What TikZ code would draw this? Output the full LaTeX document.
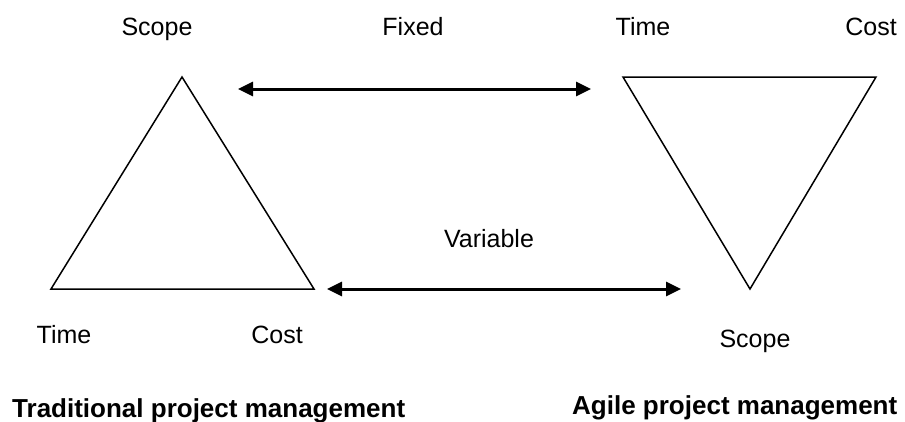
\documentclass[tikz,border=0pt]{standalone}
\usepackage{fontspec}
\setmainfont{Liberation Sans}
\usetikzlibrary{arrows.meta}
\begin{document}
\begin{tikzpicture}[x=1pt,y=-1pt,
  lbl/.style={inner sep=0pt,anchor=base,font=\fontsize{25}{30}\selectfont},
  ttl/.style={inner sep=0pt,anchor=base west,font=\fontsize{26}{31}\selectfont\bfseries},
  tri/.style={draw=black,line width=1.5pt,line join=miter},
  dbl/.style={draw=black,line width=3pt,{Triangle[length=15pt,width=14pt]}-{Triangle[length=15pt,width=14pt]}}]
\useasboundingbox (0,0) rectangle (905,421);
% left triangle
\coordinate (LA) at (182,77);
\coordinate (LB) at (51,289);
\coordinate (LC) at (314,289);
\draw[tri] (LA) -- (LB) -- (LC) -- cycle;
% right triangle
\coordinate (RA) at (623,77);
\coordinate (RB) at (876,77);
\coordinate (RC) at (750,289);
\draw[tri] (RA) -- (RB) -- (RC) -- cycle;
% arrows
\coordinate (F1) at (238,89);
\coordinate (F2) at (591,89);
\coordinate (V1) at (327,289);
\coordinate (V2) at (681,289);
\draw[dbl] (F1) -- (F2);
\draw[dbl] (V1) -- (V2);
% labels
\node[lbl] (scopeL) at (157,35) {Scope};
\node[lbl] (fixed) at (413,35) {Fixed};
\node[lbl] (timeR) at (643,35) {Time};
\node[lbl] (costR) at (871,35) {Cost};
\node[lbl] (variable) at (489,247) {Variable};
\node[lbl] (timeL) at (64,343) {Time};
\node[lbl] (costL) at (277,343) {Cost};
\node[lbl] (scopeR) at (755,347) {Scope};
\node[ttl] (trad) at (12,417) {Traditional project management};
\node[ttl] (agile) at (572,414) {Agile project management};
\end{tikzpicture}
\end{document}
